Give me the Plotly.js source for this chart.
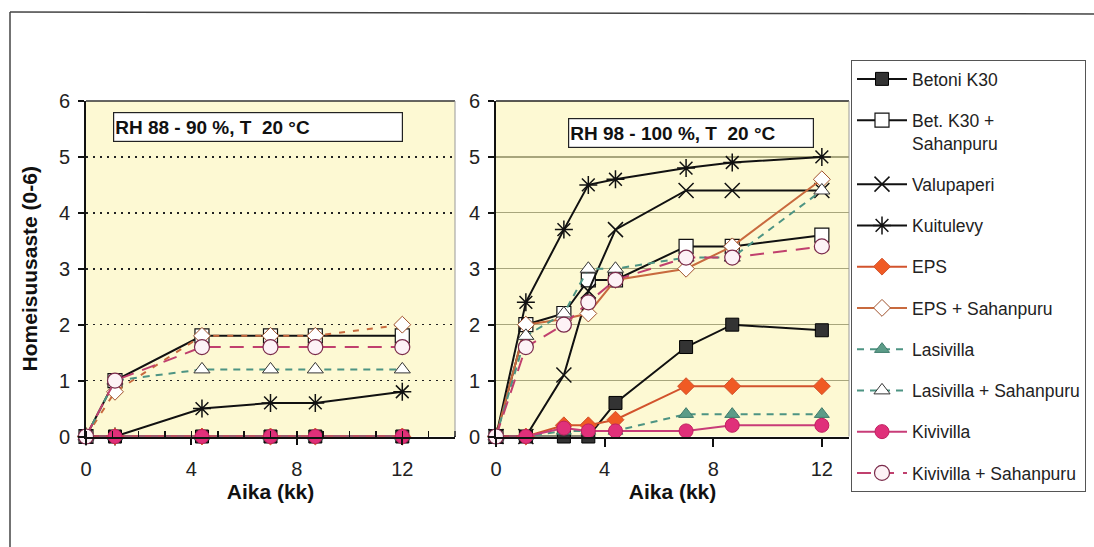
<!DOCTYPE html>
<html>
<head>
<meta charset="utf-8">
<script src="https://cdn.plot.ly/plotly-3.0.1.min.js"></script>
<style>html,body{margin:0;padding:0;background:#fff;}#chart{width:1094px;height:547px;}</style>
</head>
<body>
<div id="chart"></div>
<script>
// ---- Data ----
const seriesNames = ["Betoni K30", "Bet. K30 +<br>Sahanpuru", "Valupaperi", "Kuitulevy", "EPS",
  "EPS + Sahanpuru", "Lasivilla", "Lasivilla + Sahanpuru", "Kivivilla", "Kivivilla + Sahanpuru"];

// Left panel: RH 88 - 90 %, T 20 °C
const monthsLeft = [0, 1.1, 4.4, 7, 8.7, 12];
const betoniLeft   = [0, 0, 0, 0, 0, 0];
const betSahLeft   = [0, 1.0, 1.8, 1.8, 1.8, 1.8];
const kuituLeft    = [0, 0, 0.5, 0.6, 0.6, 0.8];
const epsLeft      = [0, 0, 0, 0, 0, 0];
const epsSahLeft   = [0, 0.8, 1.8, 1.8, 1.8, 2.0];
const lasiLeft     = [0, 0, 0, 0, 0, 0];
const lasiSahLeft  = [0, 1.0, 1.2, 1.2, 1.2, 1.2];
const kiviLeft     = [0, 0, 0, 0, 0, 0];
const kiviSahLeft  = [0, 1.0, 1.6, 1.6, 1.6, 1.6];

// Right panel: RH 98 - 100 %, T 20 °C
const monthsRight = [0, 1.1, 2.5, 3.4, 4.4, 7, 8.7, 12];
const betoniRight  = [0, 0, 0, 0, 0.6, 1.6, 2.0, 1.9];
const betSahRight  = [0, 2.0, 2.2, 2.8, 2.8, 3.4, 3.4, 3.6];
const valuRight    = [0, 0, 1.1, 2.6, 3.7, 4.4, 4.4, 4.4];
const kuituRight   = [0, 2.4, 3.7, 4.5, 4.6, 4.8, 4.9, 5.0];
const epsRight     = [0, 0, 0.2, 0.2, 0.3, 0.9, 0.9, 0.9];
const epsSahRight  = [0, 2.0, 2.1, 2.2, 2.8, 3.0, 3.4, 4.6];
const lasiRight    = [0, 0, 0.1, 0.1, 0.1, 0.4, 0.4, 0.4];
const lasiSahRight = [0, 1.8, 2.2, 3.0, 3.0, 3.2, 3.2, 4.4];
const kiviRight    = [0, 0, 0.15, 0.1, 0.1, 0.1, 0.2, 0.2];
const kiviSahRight = [0, 1.6, 2.0, 2.4, 2.8, 3.2, 3.2, 3.4];

const panelTitles = ["RH 88 - 90 %, T  20 °C", "RH 98 - 100 %, T  20 °C"];
const xTitle = "Aika (kk)";
const yTitle = "Homeisuusaste (0-6)";

// ---- Styles ----
const styles = [
  {line:{color:'#111', width:2}, marker:{symbol:'square', size:13, color:'#333', line:{color:'#000', width:1}}},
  {line:{color:'#111', width:2}, marker:{symbol:'square', size:14, color:'#fff', line:{color:'#111', width:1.2}}},
  {line:{color:'#111', width:2}, marker:{symbol:'x-thin', size:15, color:'#111', line:{color:'#111', width:1.5}}},
  {line:{color:'#111', width:2}, marker:{symbol:'asterisk', size:15, color:'#111', line:{color:'#111', width:1.5}}},
  {line:{color:'#d2532d', width:2}, marker:{symbol:'diamond', size:13, color:'#f05a24', line:{color:'#d2532d', width:1}}},
  {line:{color:'#c86a3e', width:2}, marker:{symbol:'diamond', size:13, color:'#fff', line:{color:'#a0522d', width:1}}},
  {line:{color:'#4d9483', width:2, dash:'7px,6px'}, marker:{symbol:'triangle-up', size:13, color:'#5c9c88', line:{color:'#3d7a6a', width:1}}},
  {line:{color:'#4d9483', width:2, dash:'7px,6px'}, marker:{symbol:'triangle-up', size:14, color:'#fff', line:{color:'#333', width:1}}},
  {line:{color:'#c83c78', width:2}, marker:{symbol:'circle', size:14, color:'#e0307a', line:{color:'#c02060', width:1}}},
  {line:{color:'#c0406e', width:2, dash:'14px,9px'}, marker:{symbol:'circle', size:15, color:'#fdf2f6', line:{color:'#7a2a4a', width:1.2}}}
];

const rightData = [betoniRight, betSahRight, valuRight, kuituRight, epsRight, epsSahRight, lasiRight, lasiSahRight, kiviRight, kiviSahRight];
const leftData  = [betoniLeft, betSahLeft, null, kuituLeft, epsLeft, epsSahLeft, lasiLeft, lasiSahLeft, kiviLeft, kiviSahLeft];

const traces = [];
rightData.forEach((ys, i) => {
  traces.push({
    type:'scatter', mode:'lines+markers', x: monthsRight, y: ys, name: seriesNames[i],
    legendgroup: 'g' + i, showlegend: true, xaxis:'x2', yaxis:'y2', cliponaxis:false,
    line: styles[i].line, marker: styles[i].marker
  });
});
leftData.forEach((ys, i) => {
  if (!ys) return;
  const line = Object.assign({}, styles[i].line);
  if (i === 5) line.dash = '6px,8px';
  traces.push({
    type:'scatter', mode:'lines+markers', x: monthsLeft, y: ys, name: seriesNames[i],
    legendgroup: 'g' + i, showlegend: false, xaxis:'x', yaxis:'y', cliponaxis:false,
    line: line, marker: styles[i].marker
  });
});

const W = 1094, H = 547;
const font = 'Arial, "Liberation Sans", sans-serif';
const yDom = [1 - 436.5 / H, 1 - 101 / H];

const axisCommon = {
  showline:true, linecolor:'#111', linewidth:2, zeroline:false,
  ticks:'outside', ticklen:6, tickwidth:2, tickcolor:'#111',
  tickfont:{family:font, size:20, color:'#222'}, fixedrange:true
};

const layout = {
  width:W, height:H, margin:{l:0, r:0, t:0, b:0},
  paper_bgcolor:'#fff', plot_bgcolor:'#fdf9d3',
  font:{family:font, color:'#111'},
  xaxis: Object.assign({}, axisCommon, {
    domain:[86 / W, 455 / W], range:[0, 14], tickmode:'linear', tick0:0, dtick:4, ticklabelstandoff: 7,
    showgrid:false, anchor:'y',
    minor:{tickmode:'linear', tick0:0, dtick:1, ticks:'inside', ticklen:6, tickwidth:1.5, tickcolor:'#111', showgrid:false},
    title:{text:'<b>' + xTitle + '</b>', font:{family:font, size:21, color:'#111'}, standoff:6}
  }),
  yaxis: Object.assign({}, axisCommon, {
    domain:yDom, range:[0, 6], tickmode:'linear', tick0:0, dtick:1, anchor:'x', ticklabelstandoff: 4,
    showgrid:true, gridcolor:'#222', gridwidth:1.5, griddash:'2px,5px',
    title:{text:'<b>' + yTitle + '</b>', font:{family:font, size:21, color:'#111'}, standoff:16}
  }),
  xaxis2: Object.assign({}, axisCommon, {
    domain:[496 / W, 849 / W], range:[0, 13], tickmode:'linear', tick0:0, dtick:4, ticklabelstandoff: 5,
    showgrid:false, anchor:'y2', ticklen:8,
    title:{text:'<b>' + xTitle + '</b>', font:{family:font, size:21, color:'#111'}, standoff:6}
  }),
  yaxis2: Object.assign({}, axisCommon, {
    domain:yDom, range:[0, 6], tickmode:'linear', tick0:0, dtick:1, anchor:'x2', ticklabelstandoff: 4,
    showgrid:true, gridcolor:'#a8a67c', gridwidth:1.2
  }),
  legend:{
    x: 851 / W, y: 1 - 60 / H, xanchor:'left', yanchor:'top',
    bgcolor:'#fff', bordercolor:'#555', borderwidth:1,
    font:{family:font, size:17.5, color:'#222'},
    tracegroupgap:15.5, valign:'top', itemwidth:50
  },
  annotations: [
    {xref:'paper', yref:'paper', x:113 / W, y:1 - 112 / H, xanchor:'left', yanchor:'top',
     text:'<b>' + panelTitles[0] + '</b>', showarrow:false, align:'left', width:286, height:26,
     bgcolor:'#fff', bordercolor:'#222', borderwidth:1.2, borderpad:1,
     font:{family:font, size:19, color:'#111'}},
    {xref:'paper', yref:'paper', x:568 / W, y:1 - 118 / H, xanchor:'left', yanchor:'top',
     text:'<b>' + panelTitles[1] + '</b>', showarrow:false, align:'left', width:242, height:26,
     bgcolor:'#fff', bordercolor:'#222', borderwidth:1.2, borderpad:1,
     font:{family:font, size:19, color:'#111'}}
  ],
  shapes: [
    // scanned page frame
    {type:'line', xref:'paper', yref:'paper', x0:10 / W, x1:1, y0:1 - 12 / H, y1:1 - 14 / H, line:{color:'#444', width:1.5}},
    {type:'line', xref:'paper', yref:'paper', x0:10 / W, x1:10 / W, y0:1 - 12 / H, y1:0, line:{color:'#444', width:1.5}},
    // plot area borders (top / right)
    {type:'line', xref:'x domain', yref:'y domain', x0:0, x1:1, y0:1, y1:1, line:{color:'#333', width:1.5}},
    {type:'line', xref:'x domain', yref:'y domain', x0:1, x1:1, y0:0, y1:1, line:{color:'#999', width:1}},
    {type:'line', xref:'x2 domain', yref:'y2 domain', x0:0, x1:1, y0:1, y1:1, line:{color:'#222', width:1.5}},
    {type:'line', xref:'x2 domain', yref:'y2 domain', x0:1, x1:1, y0:0, y1:1, line:{color:'#999', width:1}}
  ]
};

Plotly.newPlot('chart', traces, layout, {displayModeBar:false, staticPlot:true});
</script>
</body>
</html>
